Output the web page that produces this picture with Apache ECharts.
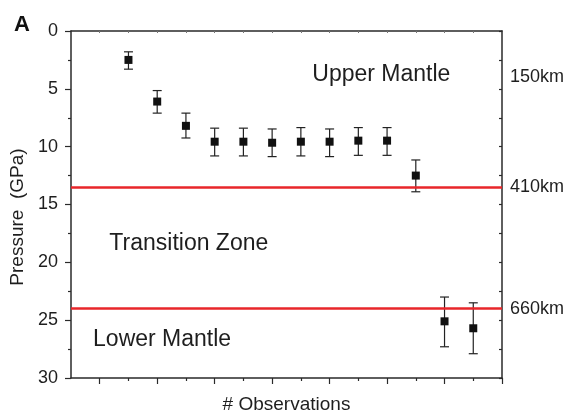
<!DOCTYPE html>
<html>
<head>
<meta charset="utf-8">
<script src="https://cdn.jsdelivr.net/npm/echarts@6/dist/echarts.min.js"></script>
<style>html,body{margin:0;padding:0;background:#fff}#c{width:567px;height:411px}</style>
</head>
<body>
<div id="c"></div>
<script>
// Data
var obsX = [2, 3, 4, 5, 6, 7, 8, 9, 10, 11, 12, 13, 14];
var pressure = [2.5, 6.1, 8.2, 9.57, 9.57, 9.66, 9.57, 9.57, 9.48, 9.48, 12.5, 25.1, 25.7];
var errLow = [1.8, 5.15, 7.1, 8.4, 8.4, 8.47, 8.35, 8.47, 8.35, 8.35, 11.15, 23.0, 23.5];
var errHigh = [3.3, 7.1, 9.25, 10.8, 10.8, 10.86, 10.8, 10.86, 10.75, 10.75, 13.9, 27.3, 27.9];
var boundaryPressures = [13.5, 24];
var depthValues = [4, 13.5, 24];
var depthLabels = ['150km', '410km', '660km'];
var zoneNames = ['Upper Mantle', 'Transition Zone', 'Lower Mantle'];
var zoneX = [10.8, 4.1, 3.17];
var zoneY = [3.8, 18.4, 26.7];
var yTicks = [0, 5, 10, 15, 20, 25, 30];
var xMajorTicks = [1, 3, 5, 7, 9, 11, 13, 15];
var xMinorTicks = [2, 4, 6, 8, 10, 12, 14];
var xTopTicks = [1, 2, 3, 4, 5, 6, 7, 8, 9, 10, 11, 12, 13, 14];

var axisColor = '#2a2a2a';
var textColor = '#1e1e1e';
var font = 'Liberation Sans, Arial, sans-serif';

var chart = echarts.init(document.getElementById('c'), null, {renderer: 'canvas'});
var option = {
  animation: false,
  backgroundColor: '#fff',
  grid: {left: 71, right: 65, top: 31, bottom: 33, containLabel: false, outerBoundsMode: 'none'},
  graphic: [{
    type: 'text', left: 14, top: 14,
    style: {text: 'A', font: 'bold 22px ' + font, fill: '#111'}
  }],
  xAxis: [{
    type: 'value', min: 0, max: 15, position: 'bottom',
    name: '# Observations', nameLocation: 'middle', nameGap: 17,
    nameTextStyle: {fontSize: 19, color: textColor, fontFamily: font},
    axisLine: {show: true, onZero: false, lineStyle: {color: axisColor, width: 1.5}},
    axisTick: {show: true, customValues: xMinorTicks, length: 3, lineStyle: {color: axisColor, width: 1.2}},
    axisLabel: {show: false}, splitLine: {show: false}
  }, {
    type: 'value', min: 0, max: 15, position: 'bottom',
    axisLine: {show: false, onZero: false},
    axisTick: {show: true, customValues: xMajorTicks, length: 6, lineStyle: {color: axisColor, width: 1.2}},
    axisLabel: {show: false}, splitLine: {show: false}
  }, {
    type: 'value', min: 0, max: 15, position: 'top',
    axisLine: {show: true, onZero: false, lineStyle: {color: axisColor, width: 1.5}},
    axisTick: {show: true, inside: true, customValues: xTopTicks, length: 2, lineStyle: {color: '#777', width: 1}},
    axisLabel: {show: false}, splitLine: {show: false}
  }],
  yAxis: [{
    type: 'value', inverse: true, min: 0, max: 30, interval: 5, position: 'left',
    name: 'Pressure  (GPa)', nameLocation: 'middle', nameGap: 41, nameRotate: 90,
    nameTextStyle: {fontSize: 19, color: textColor, fontFamily: font, padding: [0, 25, 0, 0]},
    axisLine: {show: true, onZero: false, lineStyle: {color: axisColor, width: 1.5}},
    axisTick: {show: true, length: 6, lineStyle: {color: axisColor, width: 1.2}},
    minorTick: {show: true, splitNumber: 2, length: 3, lineStyle: {color: axisColor, width: 1.2}},
    axisLabel: {show: true, margin: 13, fontSize: 18, color: textColor, fontFamily: font,
      customValues: yTicks},
    splitLine: {show: false}, minorSplitLine: {show: false}
  }, {
    type: 'value', inverse: true, min: 0, max: 30, interval: 2.5, position: 'right',
    axisLine: {show: true, onZero: false, lineStyle: {color: axisColor, width: 1.5}},
    axisTick: {show: true, inside: true, length: 3, lineStyle: {color: axisColor, width: 1.2}},
    axisLabel: {show: true, margin: 8, fontSize: 18, color: textColor, fontFamily: font,
      customValues: depthValues,
      formatter: function (v) {
        var i = depthValues.indexOf(v);
        return i >= 0 ? depthLabels[i] : '';
      }},
    splitLine: {show: false}
  }],
  series: [{
    type: 'custom', xAxisIndex: 0, yAxisIndex: 0, silent: true, z: 3,
    data: obsX.map(function (x, i) { return [x, errLow[i], errHigh[i]]; }),
    renderItem: function (params, api) {
      var top = api.coord([api.value(0), api.value(1)]);
      var bot = api.coord([api.value(0), api.value(2)]);
      var hw = 4.5;
      var st = {stroke: '#222', lineWidth: 1.2};
      return {type: 'group', children: [
        {type: 'line', shape: {x1: top[0], y1: top[1], x2: bot[0], y2: bot[1]}, style: st},
        {type: 'line', shape: {x1: top[0] - hw, y1: top[1], x2: top[0] + hw, y2: top[1]}, style: st},
        {type: 'line', shape: {x1: bot[0] - hw, y1: bot[1], x2: bot[0] + hw, y2: bot[1]}, style: st}
      ]};
    }
  }, {
    type: 'scatter', xAxisIndex: 0, yAxisIndex: 0, z: 4,
    symbol: 'rect', symbolSize: 8,
    itemStyle: {color: '#111', opacity: 1},
    data: obsX.map(function (x, i) { return [x, pressure[i]]; }),
    markLine: {
      silent: true, symbol: 'none', label: {show: false},
      lineStyle: {color: '#e8262a', width: 2.5, type: 'solid', opacity: 1},
      data: boundaryPressures.map(function (p) { return {yAxis: p}; })
    }
  }, {
    type: 'scatter', xAxisIndex: 0, yAxisIndex: 0, z: 2, silent: true,
    symbolSize: 0,
    itemStyle: {opacity: 1},
    data: zoneNames.map(function (n, i) { return {name: n, value: [zoneX[i], zoneY[i]]}; }),
    label: {show: true, position: 'inside', formatter: '{b}', fontSize: 23,
      color: textColor, fontFamily: font, opacity: 1}
  }]
};
chart.setOption(option);
</script>
</body>
</html>
